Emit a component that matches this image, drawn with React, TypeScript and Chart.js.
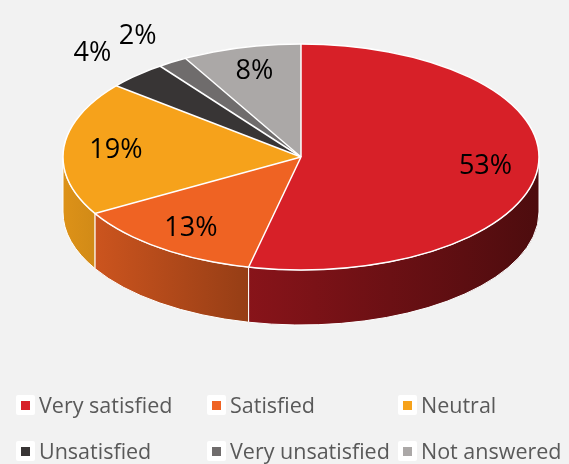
import React, { useEffect, useRef } from "react";
import { Chart, registerables } from "chart.js";

Chart.register(...registerables);

const categories = [
  "Very satisfied",
  "Satisfied",
  "Neutral",
  "Unsatisfied",
  "Very unsatisfied",
  "Not answered",
];
const percentValues = [53, 13, 19, 4, 2, 8];
const sliceColors = ["#D72028", "#EF6323", "#F6A21B", "#383535", "#6F6C6C", "#ABA8A7"];
const valueLabels = percentValues.map((v) => v + "%");

const DEPTH = 55;
const FONT = '"Open Sans", "Noto Sans", sans-serif';

function shade(hex: string, f: number): string {
  const n = parseInt(hex.slice(1), 16);
  const r = Math.round(((n >> 16) & 255) * f);
  const g = Math.round(((n >> 8) & 255) * f);
  const b = Math.round((n & 255) * f);
  return `rgb(${r},${g},${b})`;
}

const pie3dPlugin = {
  id: "pie3d",
  beforeDatasetsDraw(chart: any) {
    const meta = chart.getDatasetMeta(0);
    const arcs = meta.data;
    if (!arcs.length) return;
    const ctx: CanvasRenderingContext2D = chart.ctx;
    const area = chart.chartArea;
    const a0 = arcs[0];
    const cx = a0.x, cy = a0.y, r = a0.outerRadius;
    const aspect = area.width / area.height;
    const rx = r * aspect, ry = r;
    const left = cx - rx, right = cx + rx;
    arcs.forEach((arc: any, i: number) => {
      const s = arc.startAngle, e = arc.endAngle;
      for (const off of [-2 * Math.PI, 0, 2 * Math.PI]) {
        const a = Math.max(s, off), b = Math.min(e, off + Math.PI);
        if (b <= a) continue;
        const base = sliceColors[i];
        const grad = ctx.createLinearGradient(left, 0, right, 0);
        grad.addColorStop(0, shade(base, 0.9));
        grad.addColorStop(0.37, shade(base, 0.64));
        grad.addColorStop(1, shade(base, 0.36));
        ctx.save();
        ctx.beginPath();
        ctx.ellipse(cx, cy, rx, ry, 0, a, b);
        ctx.ellipse(cx, cy + DEPTH, rx, ry, 0, b, a, true);
        ctx.closePath();
        ctx.fillStyle = grad;
        ctx.fill();
        ctx.strokeStyle = "#FFFFFF";
        ctx.lineWidth = 1;
        ctx.stroke();
        ctx.restore();
      }
    });
    ctx.save();
    ctx.translate(cx, cy);
    ctx.scale(aspect, 1);
    ctx.translate(-cx, -cy);
  },
  afterDatasetsDraw(chart: any) {
    const meta = chart.getDatasetMeta(0);
    const arcs = meta.data;
    if (!arcs.length) return;
    const ctx: CanvasRenderingContext2D = chart.ctx;
    ctx.restore();
    const area = chart.chartArea;
    const a0 = arcs[0];
    const cx = a0.x, cy = a0.y, r = a0.outerRadius;
    const aspect = area.width / area.height;
    const rx = r * aspect, ry = r;
    // top outline and separators
    ctx.save();
    ctx.strokeStyle = "#FFFFFF";
    ctx.lineWidth = 1.5;
    ctx.beginPath();
    ctx.ellipse(cx, cy, rx, ry, 0, 0, Math.PI * 2);
    ctx.stroke();
    arcs.forEach((arc: any) => {
      const t = arc.startAngle;
      ctx.beginPath();
      ctx.moveTo(cx, cy);
      ctx.lineTo(cx + rx * Math.cos(t), cy + ry * Math.sin(t));
      ctx.stroke();
    });
    ctx.restore();
    // labels
    const total = percentValues.reduce((p, v) => p + v, 0);
    ctx.save();
    ctx.font = `27px ${FONT}`;
    ctx.fillStyle = "#000000";
    ctx.textAlign = "center";
    ctx.textBaseline = "middle";
    arcs.forEach((arc: any, i: number) => {
      const mid = (arc.startAngle + arc.endAngle) / 2;
      const share = percentValues[i] / total;
      const f = share < 0.05 ? 1.27 : 0.78;
      const x = cx + rx * f * Math.cos(mid);
      const y = cy + ry * f * Math.sin(mid);
      ctx.fillText(valueLabels[i], x, y);
    });
    ctx.restore();
  },
};

const legendCols = [16, 207, 398];
const legendRows = [395, 441];

export default function App() {
  const ref = useRef<HTMLCanvasElement | null>(null);
  useEffect(() => {
    if (!ref.current) return;
    const chart = new Chart(ref.current, {
      type: "pie",
      data: {
        labels: categories,
        datasets: [
          {
            data: percentValues,
            backgroundColor: sliceColors,
            borderWidth: 0,
            clip: false,
          } as any,
        ],
      },
      options: {
        responsive: false,
        maintainAspectRatio: false,
        animation: false,
        events: [],
        layout: { padding: { left: 63, right: 30, top: 44, bottom: 194 } },
        plugins: {
          legend: { display: false },
          tooltip: { enabled: false },
        },
      },
      plugins: [pie3dPlugin as any],
    });
    return () => chart.destroy();
  }, []);

  return (
    <div
      style={{
        position: "fixed",
        left: 0,
        top: 0,
        width: 569,
        height: 464,
        background: "#F2F2F2",
        overflow: "hidden",
      }}
    >
      <canvas
        ref={ref}
        width={569}
        height={464}
        style={{ position: "absolute", left: 0, top: 0, width: 569, height: 464 }}
      />
      {categories.map((c, i) => (
        <div
          key={c}
          style={{
            position: "absolute",
            left: legendCols[i % 3],
            top: legendRows[Math.floor(i / 3)],
            height: 20,
            display: "flex",
            alignItems: "center",
            whiteSpace: "nowrap",
          }}
        >
          <span
            style={{
              width: 19,
              height: 20,
              background: "#FFFFFF",
              borderRadius: 2,
              display: "flex",
              alignItems: "center",
              justifyContent: "center",
              marginRight: 4,
            }}
          >
            <span style={{ width: 9, height: 9, background: sliceColors[i], display: "block" }} />
          </span>
          <span style={{ fontFamily: FONT, fontSize: 21.5, color: "#595959", lineHeight: "20px" }}>{c}</span>
        </div>
      ))}
    </div>
  );
}
